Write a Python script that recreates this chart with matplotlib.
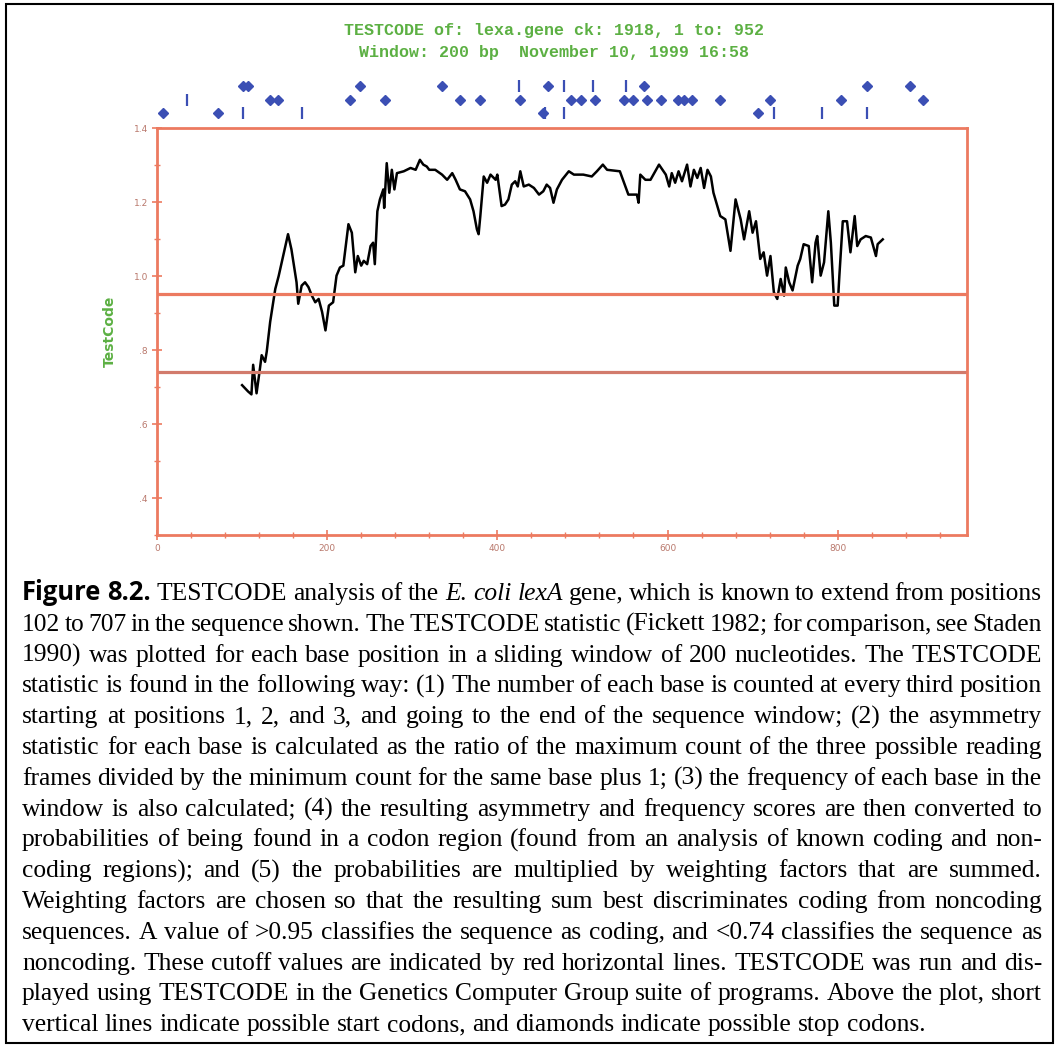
import numpy as np
import matplotlib.pyplot as plt
from matplotlib.patches import Rectangle
from matplotlib.ticker import MultipleLocator

##### data #####
pos = [100, 107, 111, 113, 117, 121, 123, 127, 129, 133, 139, 143, 154, 158, 164, 166, 170, 174,
       178, 182, 186, 190, 194, 198, 202, 207, 211, 215, 219, 225, 229, 233, 236, 240, 243, 247,
       251, 254, 256, 259, 262, 266, 267, 270, 273, 276, 279, 282, 290, 298, 304, 309, 313, 317,
       320, 327, 335, 341, 347, 351, 356, 362, 368, 372, 376, 378, 380, 384, 388, 392, 398, 400,
       405, 409, 413, 417, 421, 424, 427, 431, 437, 443, 449, 454, 458, 462, 466, 470, 476, 484,
       490, 501, 511, 517, 524, 529, 544, 554, 564, 566, 568, 574, 580, 590, 598, 602, 605, 609,
       613, 617, 623, 627, 631, 635, 639, 643, 647, 651, 654, 662, 668, 674, 680, 686, 690, 696,
       700, 704, 709, 713, 717, 721, 725, 729, 733, 737, 739, 743, 747, 753, 756, 760, 766, 770,
       774, 776, 780, 784, 789, 792, 796, 800, 802, 806, 811, 815, 820, 823, 827, 833, 839, 845,
       847, 853]
score = [0.705, 0.688, 0.680, 0.760, 0.683, 0.750, 0.786, 0.768, 0.796, 0.876, 0.965, 1.000,
         1.113, 1.072, 0.983, 0.925, 0.974, 0.983, 0.970, 0.947, 0.929, 0.938, 0.903, 0.853,
         0.920, 0.929, 1.001, 1.023, 1.028, 1.140, 1.117, 1.010, 1.054, 1.028, 1.041, 1.032,
         1.081, 1.090, 1.032, 1.175, 1.207, 1.234, 1.184, 1.305, 1.225, 1.287, 1.234, 1.278,
         1.283, 1.292, 1.287, 1.314, 1.301, 1.296, 1.287, 1.287, 1.274, 1.260, 1.278, 1.260,
         1.234, 1.229, 1.207, 1.175, 1.126, 1.113, 1.162, 1.269, 1.252, 1.274, 1.260, 1.274,
         1.189, 1.193, 1.207, 1.247, 1.256, 1.242, 1.283, 1.242, 1.247, 1.238, 1.220, 1.229,
         1.247, 1.238, 1.198, 1.234, 1.260, 1.283, 1.274, 1.274, 1.269, 1.283, 1.301, 1.287,
         1.283, 1.220, 1.220, 1.198, 1.274, 1.260, 1.260, 1.301, 1.274, 1.242, 1.278, 1.252,
         1.283, 1.256, 1.301, 1.242, 1.287, 1.265, 1.292, 1.238, 1.287, 1.269, 1.225, 1.162,
         1.153, 1.068, 1.207, 1.153, 1.099, 1.175, 1.117, 1.148, 1.046, 1.064, 1.001, 1.054,
         0.956, 0.938, 0.992, 0.947, 1.023, 0.983, 0.961, 1.028, 1.046, 1.086, 1.081, 0.983,
         1.090, 1.108, 1.001, 1.037, 1.175, 1.090, 0.920, 0.920, 1.001, 1.148, 1.148, 1.064,
         1.162, 1.081, 1.099, 1.108, 1.104, 1.054, 1.086, 1.099]

coding_cut = 0.95
noncoding_cut = 0.74

# possible stop codons (diamonds) and start codons (lines), one list per reading frame
stops = [[101, 107, 239, 335, 459, 572, 835, 885],
         [133, 142, 227, 268, 356, 380, 427, 486, 498, 515, 549, 559, 576, 592, 612, 619,
          629, 662, 721, 804, 900],
         [7, 72, 454, 706]]
starts = [[425, 478, 513, 551],
          [35],
          [101, 171, 456, 478, 725, 782, 835]]

yticks = [0.4, 0.6, 0.8, 1.0, 1.2, 1.4]
ytick_labels = ['.4', '.6', '.8', '1.0', '1.2', '1.4']
xticks = [0, 200, 400, 600, 800]

title_lines = ['TESTCODE of: lexa.gene ck: 1918, 1 to: 952',
               'Window: 200 bp  November 10, 1999 16:58']

caption = [
    "Figure 8.2. TESTCODE analysis of the E. coli lexA gene, which is known to extend from positions",
    "102 to 707 in the sequence shown. The TESTCODE statistic (Fickett 1982; for comparison, see Staden",
    "1990) was plotted for each base position in a sliding window of 200 nucleotides. The TESTCODE",
    "statistic is found in the following way: (1) The number of each base is counted at every third position",
    "starting at positions 1, 2, and 3, and going to the end of the sequence window; (2) the asymmetry",
    "statistic for each base is calculated as the ratio of the maximum count of the three possible reading",
    "frames divided by the minimum count for the same base plus 1; (3) the frequency of each base in the",
    "window is also calculated; (4) the resulting asymmetry and frequency scores are then converted to",
    "probabilities of being found in a codon region (found from an analysis of known coding and non-",
    "coding regions); and (5) the probabilities are multiplied by weighting factors that are summed.",
    "Weighting factors are chosen so that the resulting sum best discriminates coding from noncoding",
    "sequences. A value of >0.95 classifies the sequence as coding, and <0.74 classifies the sequence as",
    "noncoding. These cutoff values are indicated by red horizontal lines. TESTCODE was run and dis-",
    "played using TESTCODE in the Genetics Computer Group suite of programs. Above the plot, short",
    "vertical lines indicate possible start codons, and diamonds indicate possible stop codons.",
]
bold_words = ['Figure', '8.2.']
italic_words = ['E.', 'coli', 'lexA']
################

W, H = 1059, 1048
red = '#ec7a60'
red_dark = '#d27b6c'
green = '#5cb043'
blue = '#3b4fb4'
tick_txt = '#b9786c'

fig = plt.figure(figsize=(W / 100, H / 100), dpi=100)
renderer = fig.canvas.get_renderer()

# page frame
fig.add_artist(Rectangle((6 / W, 1 - 1043 / H), 1047 / W, 1039 / H, transform=fig.transFigure,
                         fill=False, edgecolor='black', lw=1.5))

# title
for i, line in enumerate(title_lines):
    fig.text(554 / W, 1 - (30 + 22 * i) / H, line, ha='center', va='center', color=green,
             family='Liberation Mono', weight='bold', fontsize=12)

# main plot
ax = fig.add_axes([157 / W, 1 - 535 / H, 810 / W, 407 / H])
ax.plot(pos, score, color='black', lw=1.8)
ax.axhline(coding_cut, color=red, lw=2.3)
ax.axhline(noncoding_cut, color=red_dark, lw=2.3)
ax.set_xlim(0, 952)
ax.set_ylim(0.3, 1.4)
for s in ax.spines.values():
    s.set_color(red)
    s.set_linewidth(2)
ax.set_yticks(yticks)
ax.set_yticklabels(ytick_labels)
ax.set_xticks(xticks)
ax.yaxis.set_minor_locator(MultipleLocator(0.1))
ax.xaxis.set_minor_locator(MultipleLocator(40))
ax.tick_params(which='major', direction='inout', length=7, width=1.2, color=red,
               labelsize=6.5, labelcolor=tick_txt, pad=3)
ax.tick_params(which='minor', direction='inout', length=4, width=1, color=red)
ax.set_ylabel('TestCode', color=green, fontsize=10, weight='bold', labelpad=12)

# codon markers above the plot
axm = fig.add_axes([157 / W, 1 - 125 / H, 810 / W, 50 / H])
axm.set_xlim(0, 952)
axm.set_ylim(2.889, -0.815)
axm.axis('off')
for f in range(3):
    axm.plot(stops[f], [f] * len(stops[f]), 'D', ms=5.5, color=blue, ls='none', clip_on=False)
    axm.plot(starts[f], [f] * len(starts[f]), '|', ms=9, mew=1.6, color=blue, ls='none',
             clip_on=False)

# caption, justified between left and right edges
left, right = 22, 1042
ref = 20.0


def word_props(i, word):
    if i == 0 and word in bold_words:
        return dict(family='Open Sans', weight='bold')
    if i == 0 and word in italic_words:
        return dict(family='Liberation Serif', style='italic')
    return dict(family='Liberation Serif')


def measure(word, props, size):
    t = fig.text(0, 0, word, fontsize=size, **props)
    w = t.get_window_extent(renderer).width
    t.remove()
    return w


widths = []
for i, line in enumerate(caption):
    widths.append([measure(w, word_props(i, w), ref) for w in line.split()])

# pick the largest size where every justified line keeps a decent space
size = 30.0
for i, ws in enumerate(widths[:-1]):
    n = len(ws) - 1
    k = (right - left) / (sum(ws) + n * 0.17 * ref * 100 / 72)
    size = min(size, ref * k)
k = size / ref

y0 = 600
step = 30.8
for i, line in enumerate(caption):
    words = line.split()
    ws = [w * k for w in widths[i]]
    if i < len(caption) - 1:
        gap = (right - left - sum(ws)) / (len(words) - 1)
    else:
        gap = 0.25 * size * 100 / 72
    x = left
    for word, w in zip(words, ws):
        fig.text(x / W, 1 - (y0 + step * i) / H, word, fontsize=size, va='baseline',
                 ha='left', color='black', **word_props(i, word))
        x += w + gap

plt.savefig('out.png', dpi=100)
